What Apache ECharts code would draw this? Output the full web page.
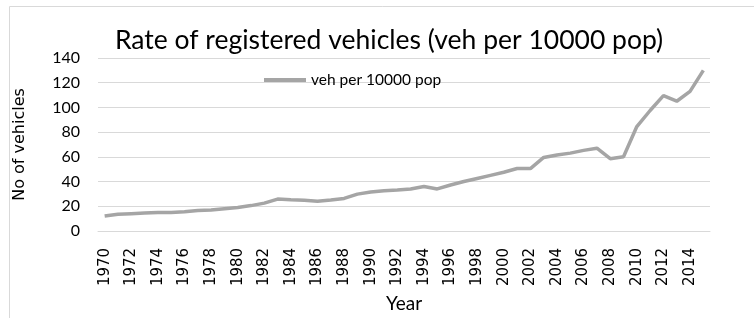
<!DOCTYPE html>
<html lang="en">
<head>
    <meta charset="utf-8">
    <title>Rate of registered vehicles</title>
    <script src="https://cdn.jsdelivr.net/npm/echarts@6.0.0/dist/echarts.min.js"></script>
</head>
<body style="margin:0">
    <div id="chart" style="width:754px; height:318px;"></div>

<script type="text/javascript">
// years on the x axis
var years = [];
for (var y = 1970; y <= 2015; y++) years.push(String(y));

// veh per 10000 pop
var vehRate = [
    12, 13.5, 14, 14.5, 15, 15, 15.5, 16.5, 17, 18,
    19, 20.5, 22.5, 25.8, 25.2, 24.8, 24, 25, 26.3, 29.8,
    31.5, 32.5, 33.2, 34, 36, 34, 37.2, 40, 42.5, 45,
    47.5, 50.5, 50.5, 59.5, 61.5, 63, 65.2, 67, 58.5, 60,
    84.5, 97.5, 109.5, 105, 113, 130
];

var seriesName = 'veh per 10000 pop';

var myChart = echarts.init(document.getElementById('chart'));

myChart.setOption({
    animation: false,
    graphic: [{
        type: 'rect',
        shape: { x: 9.5, y: 6.5, width: 800, height: 400 },
        style: { fill: 'none', stroke: '#d9d9d9', lineWidth: 1 },
        silent: true
    }],
    title: {
        text: 'Rate of registered vehicles (veh per 10000 pop)',
        left: 384,
        top: 22,
        textAlign: 'center',
        textStyle: {
            fontFamily: 'Lato',
            fontWeight: 'normal',
            fontSize: 26.5,
            color: '#000'
        }
    },
    legend: {
        left: 259,
        top: 67,
        icon: 'rect',
        itemWidth: 42,
        itemHeight: 4,
        itemGap: 4,
        textStyle: {
            fontFamily: 'Lato',
            fontSize: 15.5,
            color: '#000'
        },
        data: [seriesName]
    },
    grid: {
        left: 98,
        right: 44,
        top: 58,
        bottom: 87
    },
    xAxis: {
        type: 'category',
        data: years,
        boundaryGap: true,
        name: 'Year',
        nameLocation: 'middle',
        nameGap: 62,
        nameTextStyle: {
            fontFamily: 'Lato',
            fontSize: 19,
            color: '#000'
        },
        axisLine: { show: true, lineStyle: { color: '#d9d9d9' } },
        axisTick: { show: false },
        axisLabel: {
            interval: 1,
            rotate: 90,
            margin: 17,
            fontFamily: 'DejaVu Sans',
            fontSize: 15,
            color: '#000'
        }
    },
    yAxis: {
        type: 'value',
        min: 0,
        max: 140,
        interval: 20,
        name: 'No of vehicles',
        nameLocation: 'middle',
        nameGap: 70,
        nameTextStyle: {
            fontFamily: 'DejaVu Sans',
            fontSize: 16,
            color: '#000'
        },
        axisLine: { show: false },
        axisTick: { show: false },
        axisLabel: {
            margin: 18,
            fontFamily: 'Lato',
            fontSize: 16,
            color: '#000'
        },
        splitLine: { lineStyle: { color: '#d9d9d9', width: 1 } }
    },
    series: [{
        name: seriesName,
        type: 'line',
        data: vehRate,
        symbol: 'none',
        lineStyle: { color: '#a5a5a5', width: 3.5 },
        itemStyle: { color: '#a5a5a5' }
    }]
});
</script>
</body>
</html>
